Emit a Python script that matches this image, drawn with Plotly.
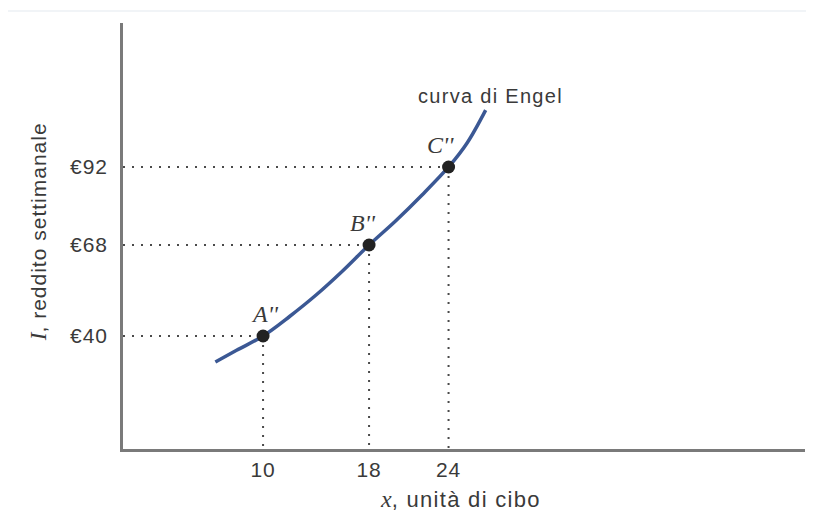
import plotly.graph_objects as go

# Data
curve_x = [6.4, 8, 10, 12, 14, 16, 18, 20, 22, 24, 25.4, 26.8]
curve_y = [32, 35.6, 40, 46, 52.6, 60, 68, 75.4, 83.4, 92, 99.4, 109.5]
point_x = [10, 18, 24]
point_y = [40, 68, 92]
point_labels = ["A''", "B''", "C''"]
x_ticks = [10, 18, 24]
x_ticklabels = ["10", "18", "24"]
y_ticks = [40, 68, 92]
y_ticklabels = ["€40", "€68", "€92"]
curve_label = "curva di Engel"
x_title_var, x_title_rest = "x", ", unità di cibo"
y_title_var, y_title_rest = "I", ", reddito settimanale"

X_MIN, X_MAX = -0.57, 50.9
Y_MIN, Y_MAX = 5.23, 136.3

SANS = "Liberation Sans, Arial, sans-serif"
SERIF = "Liberation Serif, Times New Roman, serif"
TXT = "#3a3a3a"


def spaced(t, px=1):
    return f"<span style='letter-spacing:{px}px'>{t}</span>"


fig = go.Figure()

# dotted guide lines
for px, py in zip(point_x, point_y):
    fig.add_trace(go.Scatter(x=[X_MIN, px], y=[py, py], mode="lines",
                             line=dict(color="#4a4a4a", width=2, dash="2px,7px"),
                             hoverinfo="skip", showlegend=False))
    fig.add_trace(go.Scatter(x=[px, px], y=[py, Y_MIN], mode="lines",
                             line=dict(color="#4a4a4a", width=2, dash="2px,7px"),
                             hoverinfo="skip", showlegend=False))

fig.add_trace(go.Scatter(x=curve_x, y=curve_y, mode="lines",
                         line=dict(color="#3b5894", width=3.5, shape="spline"),
                         showlegend=False))
fig.add_trace(go.Scatter(x=point_x, y=point_y, mode="markers",
                         marker=dict(color="#222222", size=13),
                         showlegend=False))

label_xshift = [2, -6, -8]
for px, py, lab, xs in zip(point_x, point_y, point_labels, label_xshift):
    fig.add_annotation(x=px, y=py, text="<i>" + lab + "</i>", showarrow=False,
                       xshift=xs, yshift=22,
                       font=dict(family=SERIF, size=24, color=TXT))

fig.add_annotation(x=curve_x[-1], y=curve_y[-1], text=spaced(curve_label, 1.3), showarrow=False,
                   xanchor="center", yanchor="bottom", xshift=5, yshift=1,
                   font=dict(family=SANS, size=20, color=TXT))

# axis titles
fig.add_annotation(xref="paper", yref="paper", x=0.4956, y=-0.117,
                   text=f"<i><span style='font-family:Liberation Serif;font-size:24px'>{x_title_var}</span></i>" + spaced(x_title_rest, 1.3),
                   showarrow=False, xanchor="center", yanchor="middle",
                   font=dict(family=SANS, size=22, color=TXT))
fig.add_annotation(xref="paper", yref="paper", x=-0.1246, y=0.509,
                   text=f"<i><span style='font-family:Liberation Serif;font-size:23px'>{y_title_var}</span></i>" + spaced(y_title_rest),
                   showarrow=False, textangle=-90, xanchor="center", yanchor="middle",
                   font=dict(family=SANS, size=21, color=TXT))

fig.add_shape(type="line", xref="paper", yref="paper", x0=-0.17, x1=1.02,
              y0=1 + 12 / 426, y1=1 + 12 / 426,
              line=dict(color="#e3e9ef", width=1))

fig.update_xaxes(range=[X_MIN, X_MAX], showline=True, linecolor="#7a7a7a", linewidth=2.5,
                 showgrid=False, zeroline=False, tickvals=x_ticks,
                 ticktext=[spaced(t) for t in x_ticklabels],
                 ticks="", ticklabelstandoff=0,
                 tickfont=dict(family=SANS, size=21, color=TXT))
fig.update_yaxes(range=[Y_MIN, Y_MAX], showline=True, linecolor="#7a7a7a", linewidth=2.5,
                 showgrid=False, zeroline=False, tickvals=y_ticks,
                 ticktext=[spaced(t) for t in y_ticklabels],
                 ticks="", ticklabelstandoff=8,
                 tickfont=dict(family=SANS, size=21, color=TXT))

fig.update_layout(width=806, height=522, margin=dict(l=115, r=9, t=15, b=81),
                  plot_bgcolor="white", paper_bgcolor="white", showlegend=False)

fig.write_html("out.html")
